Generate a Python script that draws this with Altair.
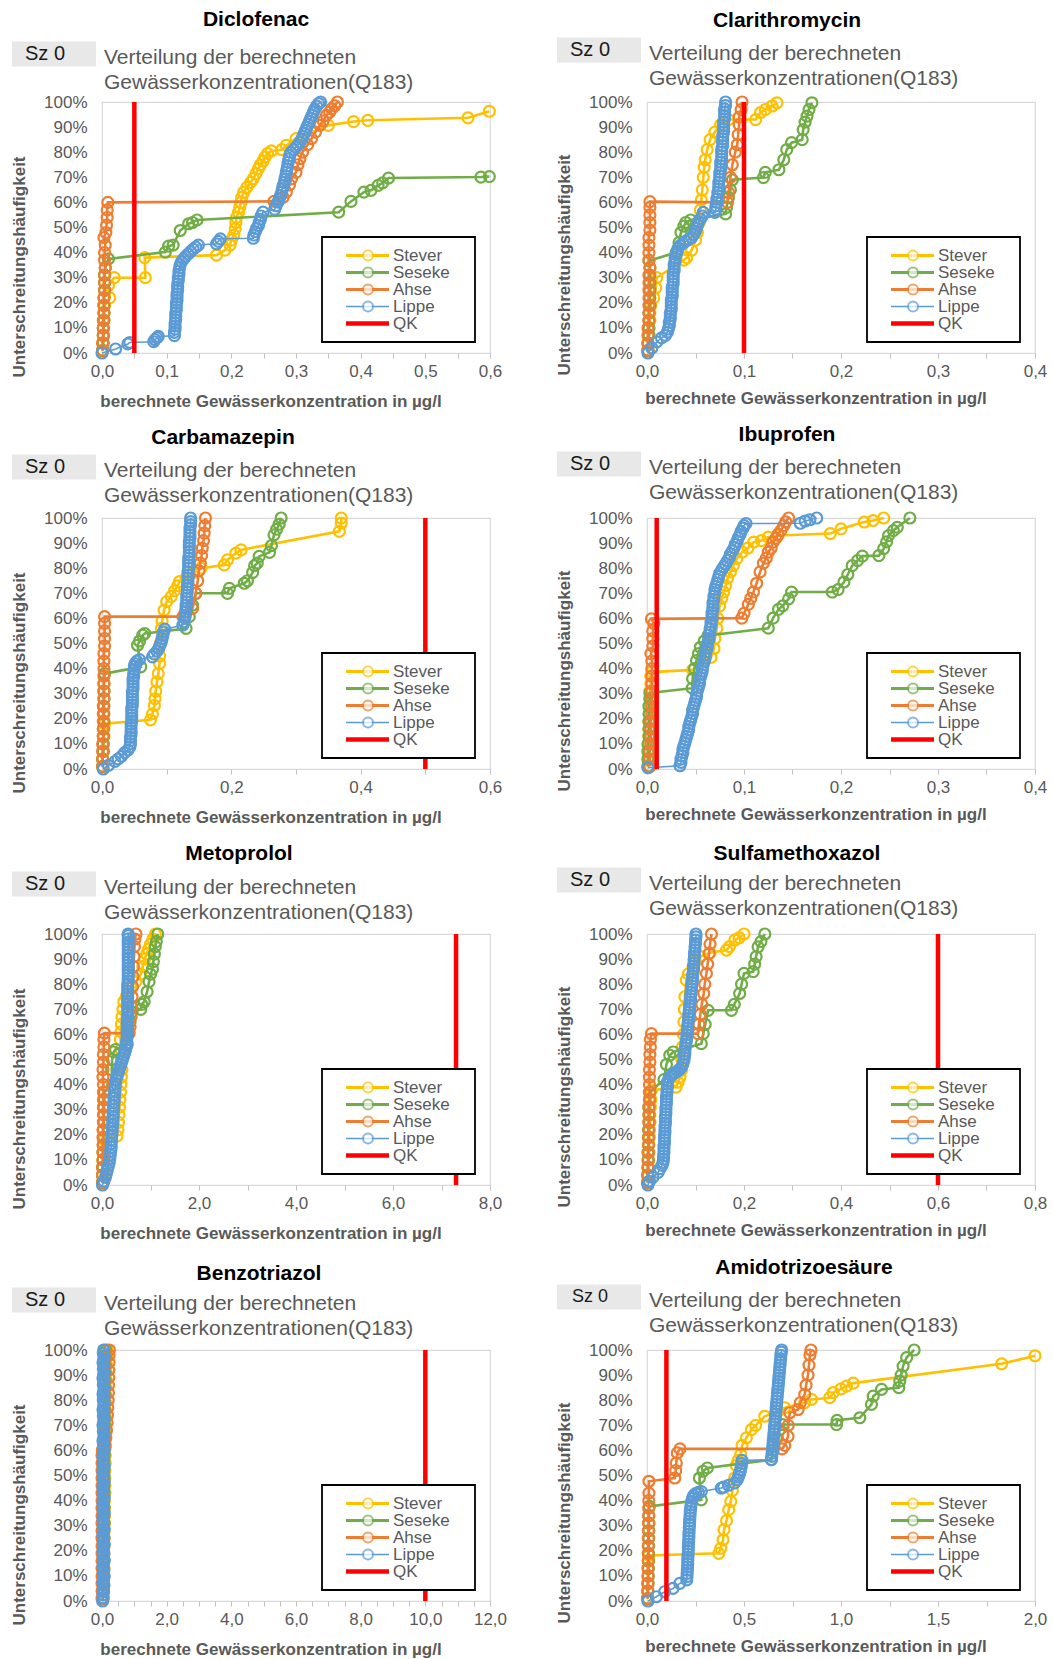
import altair as alt
import pandas as pd

# ---------------------------------------------------------------------------
# Cumulative distributions (x in ug/l, y in % non-exceedance) per river
# ---------------------------------------------------------------------------
RIVERS = ["Stever", "Seseke", "Ahse", "Lippe"]

DICLOFENAC_STEVER = [(0.001,1),(0.001,4),(0.002,7),(0.002,10),(0.003,13),(0.003,16),(0.004,19),(0.012,22),(0.010,27),(0.019,30),(0.067,30),(0.066,38),(0.177,39),(0.19,41),(0.198,43),(0.2,45),(0.204,47),(0.206,49.5),(0.207,52),(0.208,54),(0.211,56),(0.213,58),(0.215,60),(0.216,62),(0.219,64),(0.224,66),(0.23,68),(0.234,69.5),(0.238,71.5),(0.242,73.5),(0.245,75),(0.249,76.5),(0.252,78),(0.256,79.5),(0.262,80.5),(0.278,81),(0.285,82.7),(0.3,85.4),(0.35,90.7),(0.389,92.2),(0.411,92.7),(0.566,93.7),(0.599,96.3)]
DICLOFENAC_SESEKE = [(0.001,1),(0.002,4),(0.002,7),(0.002,10),(0.003,13),(0.003,16),(0.003,19),(0.003,22),(0.004,25),(0.004,28),(0.004,31),(0.005,34),(0.01,37.5),(0.098,40.2),(0.103,42.6),(0.11,43),(0.121,48.8),(0.134,51.5),(0.14,52),(0.147,53),(0.366,56.1),(0.385,60.4),(0.405,64.1),(0.416,64.8),(0.427,66.8),(0.434,67.8),(0.443,69.7),(0.586,70.1),(0.599,70.3)]
DICLOFENAC_AHSE = [(0.001,1),(0.001,4),(0.002,7),(0.002,10),(0.002,13),(0.003,16),(0.003,19),(0.003,22),(0.004,25),(0.004,28),(0.004,31),(0.005,34),(0.004,37),(0.004,40),(0.005,43),(0.003,46),(0.006,48),(0.007,51),(0.008,54),(0.008,57),(0.009,60),(0.266,60.4),(0.28,62),(0.285,64.1),(0.29,67),(0.293,69.4),(0.3,72),(0.303,75),(0.306,77.4),(0.31,80),(0.318,83),(0.324,85.4),(0.33,88),(0.337,90.7),(0.342,92.5),(0.347,94.7),(0.352,96),(0.355,97.3),(0.36,98.5),(0.364,100)]
DICLOFENAC_LIPPE = [(0.0,0),(0.021,1.6),(0.04,3.6),(0.043,4.2),(0.08,4.5),(0.082,5.3),(0.085,6),(0.087,6.6),(0.112,6.9),(0.112,8.2),(0.113,9.5),(0.113,10.8),(0.113,12),(0.114,13.3),(0.114,14.6),(0.114,16),(0.115,17.2),(0.115,18.5),(0.115,19.8),(0.116,21),(0.116,22.3),(0.116,23.6),(0.117,25),(0.117,26.2),(0.117,27.5),(0.118,28.8),(0.118,30),(0.119,31.3),(0.119,32.6),(0.12,34),(0.121,35.2),(0.123,36.4),(0.126,37.4),(0.129,38.4),(0.133,39.4),(0.137,40.4),(0.141,41.4),(0.145,42.2),(0.149,43),(0.177,43.5),(0.18,44.5),(0.183,45.5),(0.234,45.7),(0.235,47),(0.237,48.3),(0.239,49.6),(0.242,50.8),(0.243,52),(0.245,53.3),(0.246,54.6),(0.249,56.1),(0.267,57.2),(0.269,58.6),(0.272,60.1),(0.274,61.4),(0.276,62.7),(0.278,64.1),(0.279,65.4),(0.28,66.7),(0.282,68),(0.283,69.3),(0.284,70.6),(0.285,72),(0.286,73.3),(0.287,74.6),(0.288,76),(0.289,77.3),(0.29,78.6),(0.292,80),(0.296,81),(0.3,82),(0.303,82.8),(0.306,84),(0.309,85.2),(0.311,86.4),(0.313,87.6),(0.315,88.8),(0.317,90),(0.319,91.2),(0.321,92.4),(0.323,93.6),(0.325,94.8),(0.327,96),(0.329,97.2),(0.332,98.4),(0.335,99.4),(0.338,100)]

CLARI_STEVER = [(0.001,1),(0.001,4),(0.002,7),(0.002,10),(0.003,13),(0.003,16),(0.004,19),(0.007,22),(0.009,26),(0.01,30),(0.038,37),(0.041,38),(0.046,41),(0.05,45),(0.052,48),(0.054,52),(0.055,57),(0.056,61),(0.057,65),(0.058,70),(0.059,74),(0.06,77),(0.062,81),(0.065,85),(0.07,88),(0.076,91),(0.084,93),(0.112,93),(0.117,95.8),(0.122,97),(0.129,98.4),(0.134,99.7)]
CLARI_SESEKE = [(0.001,1),(0.001,4),(0.002,7),(0.002,10),(0.002,13),(0.002,16),(0.003,19),(0.003,22),(0.003,25),(0.003,28),(0.003,31),(0.003,34),(0.002,36.8),(0.03,40),(0.033,44),(0.035,48),(0.038,50.5),(0.04,52),(0.045,53),(0.081,55.4),(0.082,58),(0.084,62),(0.086,65),(0.088,69),(0.12,69.9),(0.122,72),(0.136,73),(0.141,77),(0.144,81),(0.149,83.8),(0.16,85),(0.161,89),(0.163,92),(0.165,94.4),(0.167,97),(0.17,99.7)]
CLARI_AHSE = [(0.001,1),(0.001,4),(0.001,7),(0.001,10),(0.002,13),(0.002,16),(0.002,19),(0.002,22),(0.002,25),(0.002,28),(0.002,31),(0.003,34),(0.002,37),(0.002,40),(0.002,43),(0.002,46),(0.003,49),(0.003,52),(0.003,55),(0.003,58),(0.003,60.3),(0.083,60),(0.084,64),(0.086,70),(0.088,75),(0.091,80),(0.093,83),(0.094,87),(0.095,91),(0.095,94),(0.097,97),(0.098,100)]
CLARI_LIPPE = [(0.001,0),(0.005,2),(0.01,4.4),(0.015,6),(0.019,7),(0.021,8.3),(0.022,9.6),(0.023,10.9),(0.023,12.2),(0.024,13.5),(0.024,14.8),(0.024,16),(0.025,17.3),(0.025,18.6),(0.025,20),(0.025,21.2),(0.026,22.5),(0.026,23.8),(0.026,25),(0.026,26.3),(0.027,27.6),(0.027,28.9),(0.027,30.2),(0.027,31.5),(0.028,32.8),(0.028,34),(0.028,35.3),(0.029,36.6),(0.029,37.9),(0.03,39.2),(0.031,40.5),(0.032,41.7),(0.034,42.8),(0.037,43.7),(0.04,44.6),(0.043,45.3),(0.046,46),(0.048,47.2),(0.05,48.5),(0.051,49.8),(0.052,51),(0.053,52.2),(0.055,53.4),(0.057,54.6),(0.058,56),(0.07,56),(0.071,57.3),(0.071,58.6),(0.072,60),(0.072,61.3),(0.073,62.6),(0.073,64),(0.074,65.3),(0.074,66.6),(0.074,68),(0.075,69.3),(0.075,70.6),(0.075,72),(0.076,73.3),(0.076,74.6),(0.076,76),(0.077,77.3),(0.077,78.6),(0.077,80),(0.077,81.3),(0.078,82.6),(0.078,84),(0.078,85.3),(0.078,86.6),(0.079,88),(0.079,89.3),(0.079,90.6),(0.079,92),(0.08,93.3),(0.08,94.6),(0.08,96),(0.08,97.3),(0.081,98.6),(0.081,100)]

CARBA_STEVER = [(0.001,1),(0.001,4),(0.002,7),(0.002,10),(0.003,13),(0.003,16),(0.004,18),(0.075,19.6),(0.078,22),(0.081,25.3),(0.082,28),(0.083,31),(0.085,34.7),(0.087,38),(0.089,42),(0.089,45),(0.09,50),(0.092,56),(0.093,59),(0.096,63.3),(0.1,66.7),(0.107,68.7),(0.112,71),(0.117,73),(0.12,74.7),(0.13,76),(0.14,78),(0.153,80),(0.189,81.3),(0.194,83.3),(0.207,86),(0.215,87.3),(0.367,94.7),(0.37,98),(0.37,100)]
CARBA_SESEKE = [(0.001,1),(0.001,4),(0.002,7),(0.002,10),(0.002,13),(0.002,16),(0.003,19),(0.003,22),(0.003,25),(0.003,28),(0.003,31),(0.003,34),(0.004,38),(0.06,40.7),(0.055,49.3),(0.058,51),(0.063,53.3),(0.066,54),(0.13,56),(0.135,60.7),(0.14,65.3),(0.145,70),(0.194,70),(0.197,72),(0.22,74),(0.225,75),(0.233,78.3),(0.236,81),(0.24,82),(0.243,84.7),(0.259,86.3),(0.262,89),(0.266,93.3),(0.27,95.5),(0.274,97.5),(0.277,100)]
CARBA_AHSE = [(0.001,1),(0.001,4),(0.001,7),(0.001,10),(0.002,13),(0.002,16),(0.002,19),(0.002,22),(0.002,25),(0.003,28),(0.003,31),(0.003,34),(0.003,37),(0.003,40),(0.003,43),(0.003,46),(0.004,49),(0.004,52),(0.004,55),(0.004,58),(0.004,60.7),(0.125,60.7),(0.14,64),(0.145,70),(0.148,75),(0.15,79),(0.152,82),(0.154,85),(0.155,88),(0.157,91),(0.158,94),(0.159,97),(0.16,100)]
CARBA_LIPPE = [(0.002,0),(0.01,1.5),(0.02,3),(0.025,4),(0.03,5),(0.035,6.5),(0.04,7.5),(0.043,8.8),(0.044,10),(0.044,11.3),(0.044,12.6),(0.045,13.9),(0.045,15.2),(0.045,16.5),(0.045,17.8),(0.046,19),(0.046,20.3),(0.046,21.6),(0.046,22.9),(0.046,24.2),(0.047,25.5),(0.047,26.8),(0.047,28),(0.047,29.3),(0.047,30.6),(0.048,31.9),(0.048,33.2),(0.048,34.5),(0.048,35.8),(0.049,37),(0.049,38.3),(0.05,39.6),(0.05,40.9),(0.051,42),(0.054,43),(0.058,43.6),(0.078,44.7),(0.081,45.8),(0.085,47),(0.088,48.2),(0.09,49.5),(0.092,50.8),(0.093,52),(0.094,53.3),(0.095,54.5),(0.097,55.7),(0.125,57.3),(0.127,58.6),(0.128,60),(0.129,61.3),(0.129,62.6),(0.13,64),(0.13,65.3),(0.131,66.6),(0.131,68),(0.131,69.3),(0.132,70.6),(0.132,72),(0.132,73.3),(0.133,74.6),(0.133,76),(0.133,77.3),(0.133,78.6),(0.134,80),(0.134,81.3),(0.134,82.6),(0.134,84),(0.135,85.3),(0.135,86.6),(0.135,88),(0.135,89.3),(0.135,90.6),(0.136,92),(0.136,93.3),(0.136,94.6),(0.136,96),(0.137,97.3),(0.137,98.6),(0.137,100)]

IBU_STEVER = [(0.001,1),(0.001,4),(0.001,7),(0.002,10),(0.002,13),(0.002,16),(0.002,19),(0.003,22),(0.003,25),(0.003,28),(0.003,31),(0.004,34),(0.004,37),(0.005,38.6),(0.047,39.5),(0.066,44.5),(0.069,48),(0.07,52),(0.072,56),(0.073,60),(0.075,65),(0.077,68),(0.079,70.5),(0.081,73),(0.083,76),(0.086,78.5),(0.089,81),(0.0925,83.8),(0.098,86.4),(0.104,88),(0.11,90.4),(0.118,91),(0.125,92.4),(0.135,93),(0.189,93.8),(0.2,95.7),(0.224,98.4),(0.233,99),(0.244,100)]
IBU_SESEKE = [(0.001,1),(0.001,4),(0.001,7),(0.001,10),(0.002,13),(0.002,16),(0.002,19),(0.002,22),(0.002,25),(0.003,28),(0.003,30.3),(0.0466,32.2),(0.047,36),(0.049,40),(0.051,43.2),(0.053,46),(0.055,48.5),(0.059,51),(0.063,53.2),(0.125,56.1),(0.13,60.1),(0.1356,63.6),(0.14,65),(0.146,67.8),(0.149,70.5),(0.191,70.5),(0.197,71.5),(0.203,74.5),(0.207,77.5),(0.2115,81),(0.217,83),(0.222,84.8),(0.239,85),(0.244,87.8),(0.247,90.5),(0.249,93),(0.254,95),(0.258,96.3),(0.271,100)]
IBU_AHSE = [(0.003,1),(0.003,4),(0.003,7),(0.004,10),(0.004,13),(0.004,16),(0.004,19),(0.005,22),(0.005,25),(0.005,28),(0.005,31),(0.005,34),(0.005,37),(0.005,40),(0.005,43),(0.004,46),(0.006,49),(0.006,52),(0.006,55),(0.007,58),(0.0045,59.8),(0.0977,60.1),(0.1,62),(0.1045,65.6),(0.107,68),(0.1097,70.5),(0.113,74),(0.1166,78.5),(0.12,82),(0.123,84),(0.125,86.4),(0.128,88),(0.13,90.4),(0.133,92),(0.135,93.5),(0.138,95),(0.141,97),(0.143,98.5),(0.146,100)]
IBU_LIPPE = [(0.001,0.5),(0.034,1.3),(0.035,2.6),(0.035,3.9),(0.036,5.2),(0.037,6.5),(0.037,7.8),(0.038,9.1),(0.039,10.4),(0.04,11.7),(0.041,13),(0.042,14.3),(0.043,15.6),(0.043,16.9),(0.044,18.2),(0.045,19.5),(0.046,20.8),(0.047,22.1),(0.047,23.4),(0.048,24.7),(0.049,26),(0.05,27.3),(0.051,28.6),(0.051,29.9),(0.052,31.2),(0.053,32.5),(0.054,33.8),(0.054,35.1),(0.055,36.4),(0.056,37.7),(0.057,39),(0.057,40.3),(0.058,41.6),(0.059,42.9),(0.06,44.2),(0.06,45.5),(0.061,46.8),(0.062,48.1),(0.062,49.4),(0.063,50.7),(0.064,52),(0.064,53.3),(0.065,54.6),(0.065,55.9),(0.066,57.2),(0.066,58.5),(0.067,59.8),(0.067,61.1),(0.067,62.4),(0.068,63.7),(0.068,65),(0.068,66.3),(0.069,67.6),(0.069,68.9),(0.07,70.2),(0.07,71.5),(0.071,72.8),(0.072,74.1),(0.073,75.4),(0.074,76.7),(0.075,78),(0.077,79.3),(0.079,80.5),(0.081,81.7),(0.083,83),(0.085,84.3),(0.086,85.6),(0.088,86.9),(0.09,88.2),(0.091,89.5),(0.093,90.8),(0.094,92.1),(0.096,93.4),(0.097,94.7),(0.099,96),(0.1,97),(0.102,97.8),(0.158,97.9),(0.163,98.8),(0.168,99.3),(0.175,100)]

METO_STEVER = [(0.01,1),(0.01,4),(0.02,7),(0.02,10),(0.03,13),(0.03,16),(0.04,18),(0.31,19.5),(0.33,22),(0.34,25),(0.35,28),(0.36,31),(0.37,34),(0.38,37),(0.39,40),(0.4,43),(0.41,46),(0.4,50),(0.39,54),(0.38,58),(0.39,61),(0.4,64),(0.41,67),(0.43,70),(0.45,73),(0.5,75),(0.55,77),(0.6,79),(0.7,81),(0.8,84),(0.84,87),(0.88,90),(0.92,92),(0.96,94),(1.0,96),(1.05,98),(1.1,100)]
METO_SESEKE = [(0.01,1),(0.01,4),(0.02,7),(0.02,10),(0.02,13),(0.03,16),(0.03,19),(0.03,22),(0.04,25),(0.04,28),(0.04,31),(0.05,34),(0.05,37),(0.22,40),(0.2,46),(0.21,50),(0.24,53),(0.28,54),(0.52,56),(0.55,61),(0.58,65),(0.62,69),(0.8,70),(0.82,72),(0.87,73),(0.93,77),(0.97,81),(1.0,84),(1.04,86),(1.06,89),(1.08,92),(1.1,95),(1.12,97),(1.15,100)]
METO_AHSE = [(0.01,1),(0.01,4),(0.01,7),(0.02,10),(0.02,13),(0.02,16),(0.02,19),(0.02,22),(0.03,25),(0.03,28),(0.03,31),(0.03,34),(0.03,37),(0.03,40),(0.02,43),(0.02,46),(0.03,49),(0.03,52),(0.04,55),(0.04,58),(0.05,60.5),(0.56,60.5),(0.58,63),(0.6,67),(0.61,71),(0.62,75),(0.63,79),(0.64,83),(0.65,87),(0.66,91),(0.67,95),(0.68,98),(0.7,100)]
METO_LIPPE = [(0.01,0),(0.04,1.5),(0.07,3),(0.09,4.5),(0.11,6),(0.13,7.5),(0.15,9),(0.16,10.5),(0.17,12),(0.18,13.5),(0.19,15),(0.19,16.5),(0.2,18),(0.2,19.5),(0.21,21),(0.21,22.5),(0.22,24),(0.22,25.5),(0.23,27),(0.23,28.5),(0.24,30),(0.24,31.5),(0.25,33),(0.25,34.5),(0.26,36),(0.26,37.5),(0.27,39),(0.28,40.5),(0.29,42),(0.31,43.3),(0.33,44.5),(0.35,45.7),(0.37,46.9),(0.39,48.1),(0.41,49.3),(0.43,50.5),(0.45,51.7),(0.47,52.9),(0.49,54.1),(0.5,55.3),(0.51,56.5),(0.51,57.8),(0.52,59.1),(0.52,60.4),(0.52,61.7),(0.52,63),(0.52,64.3),(0.52,65.6),(0.53,66.9),(0.53,68.2),(0.53,69.5),(0.53,70.8),(0.53,72.1),(0.53,73.4),(0.53,74.7),(0.53,76),(0.53,77.3),(0.53,78.6),(0.53,79.9),(0.54,81.2),(0.54,82.5),(0.54,83.8),(0.54,85.1),(0.54,86.4),(0.54,87.7),(0.54,89),(0.54,90.3),(0.54,91.6),(0.54,92.9),(0.54,94.2),(0.54,95.5),(0.54,96.8),(0.54,98.1),(0.54,99.4),(0.54,100)]

SULFA_STEVER = [(0.001,1),(0.002,4),(0.003,7),(0.003,10),(0.004,13),(0.004,16),(0.005,19),(0.005,22),(0.006,25),(0.006,28),(0.007,31),(0.008,34),(0.009,37.7),(0.06,39),(0.064,41),(0.068,43),(0.071,45.7),(0.072,50),(0.073,55),(0.075,60),(0.076,65),(0.077,70),(0.078,75),(0.081,81.6),(0.085,84),(0.095,87),(0.1,89),(0.11,91),(0.13,92.5),(0.164,93.6),(0.17,95),(0.181,97.6),(0.19,98.5),(0.2,100)]
SULFA_SESEKE = [(0.001,1),(0.001,4),(0.002,7),(0.002,10),(0.002,13),(0.003,16),(0.003,19),(0.003,22),(0.004,25),(0.004,28),(0.004,31),(0.005,34),(0.006,37),(0.035,42),(0.04,48),(0.047,51.7),(0.054,53),(0.112,56.3),(0.116,60.3),(0.12,64),(0.126,69.6),(0.174,69.6),(0.18,72),(0.191,76.3),(0.195,80),(0.2,84.3),(0.219,85),(0.222,88),(0.225,91),(0.229,94.9),(0.235,97),(0.243,100)]
SULFA_AHSE = [(0.002,1),(0.002,4),(0.002,7),(0.003,10),(0.003,13),(0.003,16),(0.003,19),(0.004,22),(0.004,25),(0.004,28),(0.004,31),(0.005,34),(0.005,37),(0.005,40),(0.005,43),(0.005,46),(0.006,49),(0.006,52),(0.007,55),(0.007,58),(0.009,60.3),(0.105,60.3),(0.107,64),(0.11,68),(0.113,72),(0.117,76.3),(0.119,80),(0.1225,84.3),(0.125,88),(0.128,92.3),(0.13,96),(0.133,100)]
SULFA_LIPPE = [(0.002,0),(0.005,1.5),(0.012,3),(0.023,5),(0.027,6.5),(0.031,7.8),(0.033,9),(0.034,10.3),(0.034,11.6),(0.035,12.9),(0.035,14.2),(0.035,15.5),(0.036,16.8),(0.036,18.1),(0.036,19.4),(0.037,20.7),(0.037,22),(0.037,23.3),(0.038,24.6),(0.038,25.9),(0.038,27.2),(0.039,28.5),(0.039,29.8),(0.039,31.1),(0.04,32.4),(0.04,33.7),(0.04,35),(0.041,36.3),(0.041,37.6),(0.042,38.9),(0.042,40.2),(0.043,41.5),(0.046,42.8),(0.05,43.6),(0.054,44.2),(0.058,44.8),(0.063,45.4),(0.067,46),(0.071,47),(0.074,48.2),(0.076,49.5),(0.077,50.8),(0.078,52.1),(0.078,53.4),(0.079,54.7),(0.08,56),(0.081,57.3),(0.082,58.6),(0.082,59.9),(0.083,61.2),(0.084,62.5),(0.084,63.8),(0.085,65.1),(0.086,66.4),(0.086,67.7),(0.087,69),(0.088,70.3),(0.088,71.6),(0.089,72.9),(0.09,74.2),(0.09,75.5),(0.091,76.8),(0.092,78.1),(0.092,79.4),(0.093,80.7),(0.094,82),(0.094,83.3),(0.095,84.6),(0.096,85.9),(0.096,87.2),(0.097,88.5),(0.097,89.8),(0.098,91.1),(0.098,92.4),(0.099,93.7),(0.099,95),(0.1,96.3),(0.1,97.6),(0.101,98.9),(0.101,100)]

BENZO_STEVER = [(0.03,1),(0.04,4),(0.05,7),(0.05,10),(0.06,13),(0.06,16),(0.06,19),(0.07,22),(0.07,25),(0.07,28),(0.08,31),(0.08,34),(0.08,37),(0.08,40),(0.09,43),(0.09,46),(0.09,49),(0.09,52),(0.1,55),(0.1,58),(0.1,61),(0.1,64),(0.11,67),(0.11,70),(0.11,73),(0.11,76),(0.12,79),(0.12,82),(0.12,85),(0.13,88),(0.13,91),(0.14,94),(0.15,97),(0.16,100)]
BENZO_SESEKE = [(0.02,1),(0.02,4),(0.03,7),(0.03,10),(0.03,13),(0.04,16),(0.04,19),(0.04,22),(0.04,25),(0.05,28),(0.05,31),(0.05,34),(0.05,37),(0.05,40),(0.06,43),(0.06,46),(0.06,49),(0.06,52),(0.06,55),(0.07,58),(0.07,61),(0.07,64),(0.07,67),(0.08,70),(0.08,73),(0.08,76),(0.08,79),(0.09,82),(0.09,85),(0.09,88),(0.1,91),(0.1,94),(0.11,97),(0.12,100)]
BENZO_AHSE = [(0.0,1),(0.0,4),(0.0,7),(0.0,10),(0.0,13),(0.0,16),(0.0,19),(0.0,22),(0.0,25),(0.0,28),(0.0,31),(0.0,34),(0.0,37),(0.0,40),(0.0,43),(0.0,46),(0.0,49),(0.0,52),(0.0,55),(0.0,58),(0.01,60),(0.1,62),(0.12,65),(0.14,68),(0.16,71),(0.17,74),(0.18,77),(0.19,80),(0.2,83),(0.2,86),(0.21,89),(0.21,92),(0.22,95),(0.22,98),(0.23,100)]
BENZO_LIPPE = [(0.02,0),(0.04,1.2),(0.03,2.5),(0.05,3.7),(0.04,5),(0.06,6.2),(0.03,7.5),(0.05,8.7),(0.07,10),(0.04,11.2),(0.06,12.5),(0.03,13.7),(0.05,15),(0.07,16.2),(0.04,17.5),(0.06,18.7),(0.03,20),(0.05,21.2),(0.07,22.5),(0.04,23.7),(0.06,25),(0.03,26.2),(0.05,27.5),(0.07,28.7),(0.04,30),(0.06,31.2),(0.03,32.5),(0.05,33.7),(0.07,35),(0.04,36.2),(0.06,37.5),(0.03,38.7),(0.05,40),(0.07,41.2),(0.04,42.5),(0.06,43.7),(0.03,45),(0.05,46.2),(0.07,47.5),(0.04,48.7),(0.06,50),(0.03,51.2),(0.05,52.5),(0.07,53.7),(0.04,55),(0.06,56.2),(0.03,57.5),(0.05,58.7),(0.07,60),(0.04,61.2),(0.06,62.5),(0.03,63.7),(0.05,65),(0.07,66.2),(0.04,67.5),(0.06,68.7),(0.03,70),(0.05,71.2),(0.07,72.5),(0.04,73.7),(0.06,75),(0.03,76.2),(0.05,77.5),(0.07,78.7),(0.04,80),(0.06,81.2),(0.03,82.5),(0.05,83.7),(0.07,85),(0.04,86.2),(0.06,87.5),(0.03,88.7),(0.05,90),(0.07,91.2),(0.04,92.5),(0.06,93.7),(0.03,95),(0.05,96.2),(0.07,97.5),(0.04,98.7),(0.05,100)]

AMIDO_STEVER = [(0.002,1),(0.003,4),(0.004,7),(0.005,10),(0.006,13),(0.007,16),(0.01,18.1),(0.37,19),(0.38,21),(0.392,24.4),(0.397,28.4),(0.41,32),(0.421,36.4),(0.432,39.7),(0.44,44),(0.452,49),(0.46,54),(0.47,56),(0.483,58.3),(0.49,62),(0.512,65),(0.538,68.3),(0.56,70),(0.607,73.6),(0.676,75.6),(0.71,77),(0.813,79),(0.848,80.3),(0.942,81),(0.96,83),(1.0,84.5),(1.028,85.6),(1.063,86.8),(1.828,94.5),(2.0,97.7)]
AMIDO_SESEKE = [(0.005,1),(0.005,4),(0.006,7),(0.007,10),(0.007,13),(0.008,16),(0.008,19),(0.009,22),(0.009,25),(0.01,28),(0.01,31),(0.01,34),(0.012,37.7),(0.28,40.3),(0.27,49),(0.289,51.7),(0.311,53),(0.641,56.3),(0.65,60),(0.667,65),(0.684,68.3),(0.7,70.3),(0.977,70.3),(0.98,72),(1.097,73),(1.157,78.3),(1.166,81.6),(1.209,84.3),(1.298,85),(1.303,87.6),(1.31,90),(1.32,93.6),(1.338,97),(1.377,100)]
AMIDO_AHSE = [(0.003,1),(0.004,4),(0.004,7),(0.005,10),(0.005,13),(0.006,16),(0.006,19),(0.006,22),(0.007,25),(0.007,28),(0.008,31),(0.008,34),(0.009,37),(0.009,40),(0.01,43),(0.01,47.7),(0.143,49),(0.148,52),(0.151,55),(0.156,59),(0.17,60.6),(0.696,60.6),(0.71,62),(0.727,65.6),(0.728,70),(0.736,75),(0.779,76.3),(0.79,79),(0.813,82.3),(0.82,86),(0.83,90),(0.835,94),(0.84,98),(0.845,100)]
AMIDO_LIPPE = [(0.005,0),(0.048,1.7),(0.091,3.7),(0.134,5),(0.169,7),(0.205,8.4),(0.206,9.7),(0.207,11),(0.208,12.3),(0.209,13.6),(0.21,14.9),(0.21,16.2),(0.211,17.5),(0.212,18.8),(0.213,20.1),(0.213,21.4),(0.214,22.7),(0.215,24),(0.216,25.3),(0.216,26.6),(0.217,27.9),(0.218,29.2),(0.219,30.5),(0.22,31.8),(0.221,33.1),(0.222,34.4),(0.223,35.7),(0.225,37),(0.227,38.3),(0.23,39.6),(0.234,40.9),(0.24,42),(0.25,42.8),(0.265,43.3),(0.28,43.6),(0.383,45),(0.395,45.4),(0.42,46.1),(0.45,47),(0.465,48.3),(0.472,49.6),(0.478,50.9),(0.482,52.2),(0.486,53.5),(0.488,54.8),(0.49,56),(0.641,56.3),(0.643,57.6),(0.645,58.9),(0.647,60.2),(0.648,61.5),(0.65,62.8),(0.651,64.1),(0.653,65.4),(0.654,66.7),(0.656,68),(0.657,69.3),(0.659,70.6),(0.66,71.9),(0.662,73.2),(0.663,74.5),(0.665,75.8),(0.666,77.1),(0.668,78.4),(0.669,79.7),(0.671,81),(0.672,82.3),(0.674,83.6),(0.675,84.9),(0.677,86.2),(0.678,87.5),(0.68,88.8),(0.681,90.1),(0.683,91.4),(0.684,92.7),(0.686,94),(0.687,95.3),(0.689,96.6),(0.69,97.9),(0.692,99.2),(0.694,100)]

# Substances, quality criteria (QK, ug/l) and x-axis extents
SUBSTANCES = ["Diclofenac", "Clarithromycin", "Carbamazepin", "Ibuprofen",
              "Metoprolol", "Sulfamethoxazol", "Benzotriazol", "Amidotrizoesäure"]
QK_VALUES = [0.05, 0.1, 0.5, 0.01, 7.3, 0.6, 10.0, 0.1]
X_MAX = [0.6, 0.4, 0.6, 0.4, 8.0, 0.8, 12.0, 2.0]
X_LABEL_STEP = [0.1, 0.1, 0.2, 0.1, 2.0, 0.2, 2.0, 0.5]
X_TICK_STEP = [0.05, 0.05, 0.1, 0.05, 1.0, 0.1, 0.5, 0.25]
SERIES = [
    [DICLOFENAC_STEVER, DICLOFENAC_SESEKE, DICLOFENAC_AHSE, DICLOFENAC_LIPPE],
    [CLARI_STEVER, CLARI_SESEKE, CLARI_AHSE, CLARI_LIPPE],
    [CARBA_STEVER, CARBA_SESEKE, CARBA_AHSE, CARBA_LIPPE],
    [IBU_STEVER, IBU_SESEKE, IBU_AHSE, IBU_LIPPE],
    [METO_STEVER, METO_SESEKE, METO_AHSE, METO_LIPPE],
    [SULFA_STEVER, SULFA_SESEKE, SULFA_AHSE, SULFA_LIPPE],
    [BENZO_STEVER, BENZO_SESEKE, BENZO_AHSE, BENZO_LIPPE],
    [AMIDO_STEVER, AMIDO_SESEKE, AMIDO_AHSE, AMIDO_LIPPE],
]
SCENARIO = "Sz 0"
SUBTITLE = ["Verteilung der berechneten", "Gewässerkonzentrationen(Q183)"]
Y_TITLE = "Unterschreitungshäufigkeit"
X_TITLE = "berechnete Gewässerkonzentration in µg/l"

# ---------------------------------------------------------------------------
# Styling
# ---------------------------------------------------------------------------
FONT = "Liberation Sans"
GREY = "#595959"
RIVER_COLORS = ["#FFC000", "#70AD47", "#ED7D31", "#5B9BD5"]
RIVER_LINE_WIDTHS = [2.6, 2.6, 2.6, 1.6]
QK_COLOR = "#FF0000"
LEGEND_NAMES = RIVERS + ["QK"]
W, H = 388, 251
MARKER_SIZE = 120
MARKER_STROKE = 2.2

# header placement (pixels relative to each plot area)
TITLE_X = [154, 140, 121, 140, 137, 150, 157, 157]
TITLE_Y = [-82, -81, -80, -83, -80, -80, -76, -82]
SUB_Y = [-44, -48, -47, -50, -46, -50, -46, -49]


def one_row():
    return pd.DataFrame({"k": [0]})


def text_mark(text, x, y, size, color=GREY, bold=False, align="left", angle=0, font=FONT):
    return alt.Chart(one_row()).mark_text(
        text=text, align=align, baseline="middle", fontSize=size,
        fontWeight="bold" if bold else "normal", color=color, angle=angle, font=font,
    ).encode(x=alt.value(x), y=alt.value(y))


def series_df(points):
    df = pd.DataFrame(points, columns=["x", "pct"])
    df["y"] = df["pct"] / 100.0
    df["i"] = range(len(df))
    return df


def steps(xmax, step):
    n = int(round(xmax / step))
    return [round(k * step, 6) for k in range(n + 1)]


def legend_layer():
    leg = pd.DataFrame({"name": LEGEND_NAMES})
    ly = alt.Y("name:N", scale=alt.Scale(domain=LEGEND_NAMES, range=[145, 230], padding=0), axis=None)
    cscale = alt.Scale(domain=LEGEND_NAMES, range=RIVER_COLORS + [QK_COLOR])
    box = alt.Chart(one_row()).mark_rect(fill="white", stroke="black", strokeWidth=1.8).encode(
        x=alt.value(220), x2=alt.value(373), y=alt.value(135), y2=alt.value(240))
    river_lines = alt.Chart(leg).transform_filter(alt.datum.name != "QK").mark_rule().encode(
        x=alt.value(244), x2=alt.value(287), y=ly,
        color=alt.Color("name:N", scale=cscale, legend=None),
        strokeWidth=alt.condition(alt.datum.name == "Lippe", alt.value(1.6), alt.value(2.8)))
    qk_line = alt.Chart(leg).transform_filter(alt.datum.name == "QK").mark_rule(strokeWidth=4.5).encode(
        x=alt.value(244), x2=alt.value(287), y=ly,
        color=alt.Color("name:N", scale=cscale, legend=None))
    rings = alt.Chart(leg).transform_filter(alt.datum.name != "QK").mark_point(
        shape="circle", filled=True, fill="white", size=100, strokeWidth=2.0).encode(
        x=alt.value(266), y=ly, stroke=alt.Stroke("name:N", scale=cscale, legend=None))
    labels = alt.Chart(leg).mark_text(align="left", baseline="middle", fontSize=17, font=FONT, color=GREY).encode(
        x=alt.value(291), y=ly, text="name:N")
    return alt.LayerChart(layer=[box, river_lines, qk_line, rings, labels])


def make_panel(k):
    xscale = alt.Scale(domain=[0, X_MAX[k]], nice=False, zero=True)
    yscale = alt.Scale(domain=[0, 1], nice=False)
    ls = X_LABEL_STEP[k]
    xaxis = alt.Axis(
        values=steps(X_MAX[k], X_TICK_STEP[k]),
        labelExpr=(f"abs(datum.value / {ls} - round(datum.value / {ls})) < 0.001 ? "
                   "replace(format(datum.value, '.1f'), '.', ',') : ''"),
        title=None, grid=False, domain=False, ticks=True, tickSize=5,
        labelFlush=False, labelOverlap=False, labelPadding=5)
    yaxis = alt.Axis(values=steps(1.0, 0.1), format=".0%", title=None, grid=False, domain=False,
                     ticks=False, tickSize=0, labelFlush=False, labelOverlap=False, labelPadding=15)

    layers = []
    for pts, color, lw in zip(SERIES[k], RIVER_COLORS, RIVER_LINE_WIDTHS):
        layers.append(
            alt.Chart(series_df(pts)).mark_line(
                color=color, strokeWidth=lw,
                point=alt.OverlayMarkDef(shape="circle", filled=False, size=MARKER_SIZE,
                                         strokeWidth=MARKER_STROKE, color=color),
            ).encode(
                x=alt.X("x:Q", scale=xscale, axis=xaxis),
                y=alt.Y("y:Q", scale=yscale, axis=yaxis),
                order=alt.Order("i:Q"),
            )
        )
    layers.append(
        alt.Chart(pd.DataFrame({"x": [QK_VALUES[k]]})).mark_rule(color=QK_COLOR, strokeWidth=4.5).encode(
            x=alt.X("x:Q", scale=xscale, axis=xaxis))
    )
    data_layer = alt.LayerChart(layer=layers)

    sub_y = SUB_Y[k]
    box_y = sub_y - 4
    right = k % 2 == 1
    decos = [
        alt.Chart(one_row()).mark_rect(fill="#E8E8E8").encode(
            x=alt.value(-90), x2=alt.value(-6), y=alt.value(box_y - 12.5), y2=alt.value(box_y + 12.5)),
        text_mark(SCENARIO, -75 if k == 7 else -77, box_y, 18 if k == 7 else 20, color="#1a1a1a",
                  font="Liberation Sans Narrow, Liberation Sans" if k == 7 else FONT),
        text_mark(SUBSTANCES[k], TITLE_X[k], TITLE_Y[k], 21, color="#000000", bold=True, align="center"),
        text_mark(SUBTITLE[0], 2, sub_y, 21),
        text_mark(SUBTITLE[1], 2, sub_y + 24.5, 21),
        text_mark(Y_TITLE, -82, 163 if right else 165, 17, bold=True, align="center", angle=270),
        text_mark(X_TITLE, 169, 297 if right else 300, 17, bold=True, align="center"),
    ]
    if k == 0:
        # white corner pixel fixing the page origin
        decos.append(alt.Chart(one_row()).mark_rect(fill="white").encode(
            x=alt.value(-101), x2=alt.value(-100), y=alt.value(-101), y2=alt.value(-100)))

    return alt.LayerChart(layer=[data_layer, legend_layer()] + decos).resolve_scale(
        y="independent").properties(width=W, height=H)


panels = [make_panel(k) for k in range(8)]

chart = alt.concat(
    *panels, columns=2, spacing={"row": 165, "column": 157}, bounds="flush"
).properties(
    padding=0, background="white"
).configure_view(
    stroke="#D9D9D9", strokeWidth=1.2
).configure_axis(
    labelFont=FONT, labelFontSize=17, labelColor=GREY, tickColor="#BFBFBF", tickWidth=1
)

chart.save("out.html", embed_options={"renderer": "svg", "actions": False})
